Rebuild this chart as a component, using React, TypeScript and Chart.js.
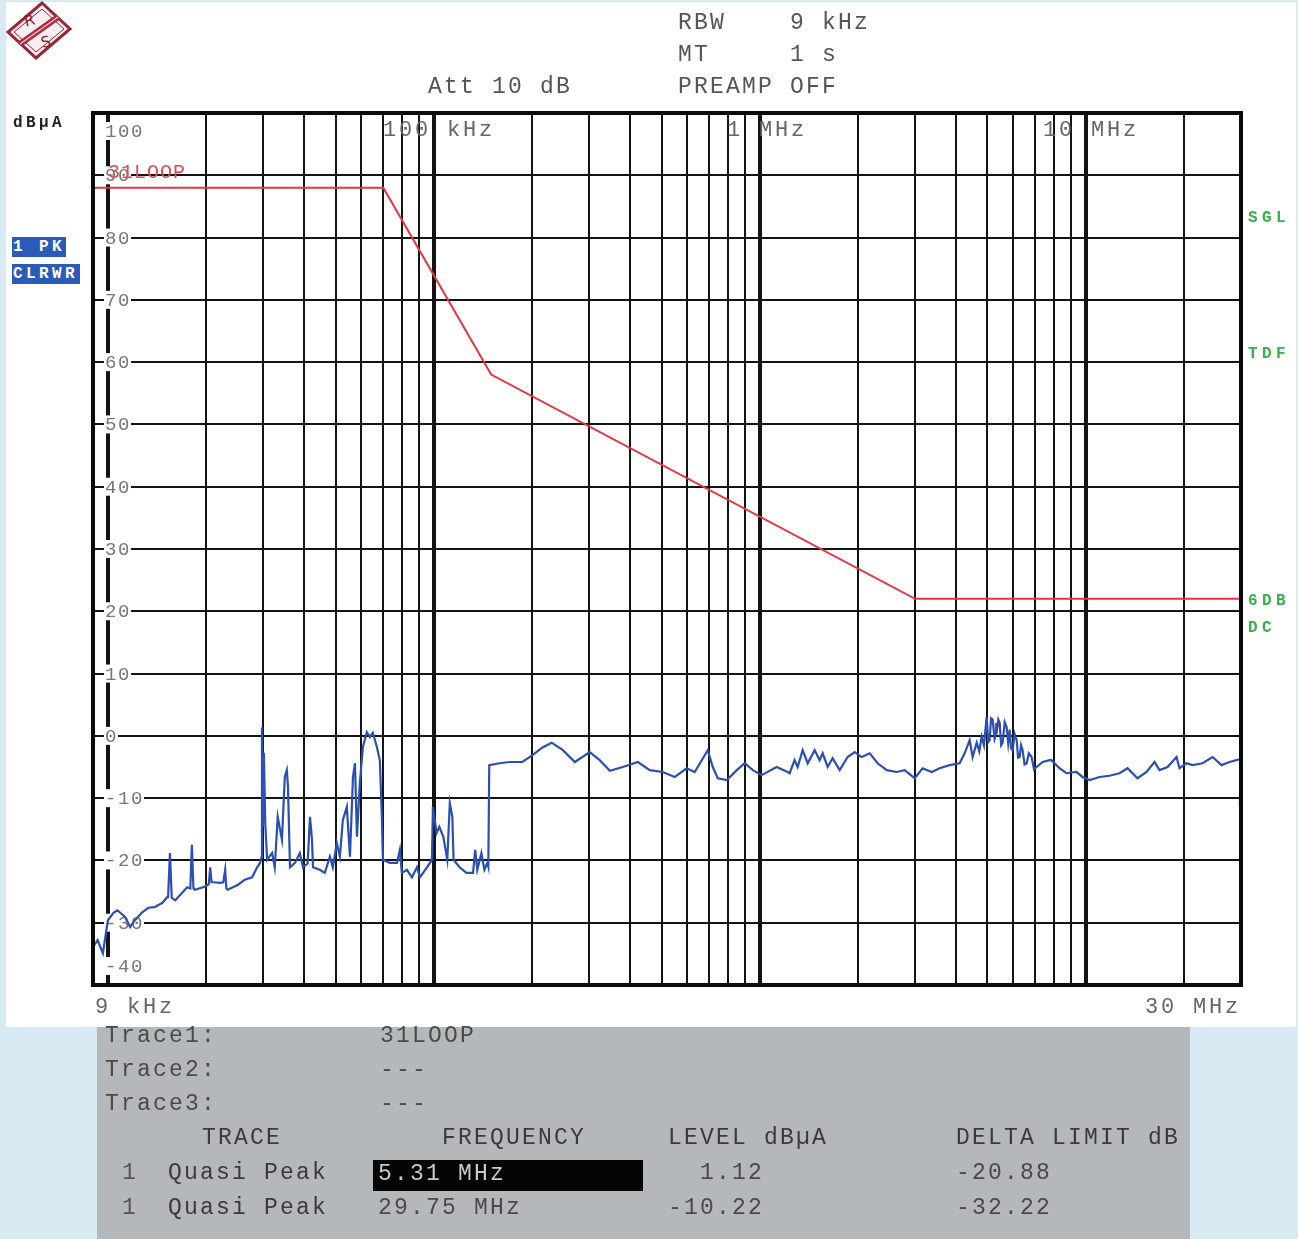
import React, { useEffect, useRef } from "react";
import { Chart, registerables } from "chart.js";

Chart.register(...registerables);

// ---------- data ----------
const traceFreqKHz = [
  9.0, 9.3, 9.65, 10.0, 10.4, 10.7, 11.3, 11.7, 12.1, 12.7, 13.3, 13.9, 14.7, 15.2, 15.3, 15.5, 15.7,
  16.1, 16.9, 17.5, 17.9, 18.1, 18.3, 18.5, 19.9, 20.4, 20.6, 20.8, 21.0, 22.1, 22.6, 22.9, 23.1, 23.3,
  25.1, 26.3, 27.7, 28.7, 29.3, 29.6, 29.7, 29.9, 30.1, 30.4, 30.8, 31.9, 32.5, 33.2, 34.2, 34.9, 35.4,
  35.7, 36.2, 37.5, 38.8, 39.7, 41.0, 41.7, 42.3, 42.6, 44.7, 46.3, 48.0, 49.0, 50.4, 51.5, 52.6, 54.1,
  55.3, 56.5, 57.3, 58.1, 59.3, 60.6, 62.3, 63.7, 65.0, 66.9, 68.3, 69.3, 69.8, 73.3, 77.1, 78.7, 79.8,
  82.7, 85.7, 88.8, 90.7, 95.3, 98.7, 99.4, 102, 104, 107, 110, 112, 114, 115, 120, 126, 132, 134, 136,
  140, 143, 146, 147, 148, 159, 171, 184, 187, 201, 215, 230, 249, 271, 301, 323, 347, 380, 423, 460,
  504, 549, 597, 632, 693, 718, 744, 793, 851, 900, 953, 1014, 1128, 1219, 1236, 1280, 1308, 1355, 1404,
  1475, 1528, 1561, 1617, 1675, 1760, 1862, 1957, 2056, 2176, 2302, 2454, 2633, 2786, 2990, 3163, 3372,
  3567, 3828, 4109, 4256, 4410, 4504, 4634, 4720, 4800, 4880, 4972, 5030, 5079, 5130, 5188, 5260, 5337,
  5400, 5451, 5510, 5568, 5650, 5727, 5790, 5850, 5910, 5974, 6060, 6148, 6210, 6280, 6340, 6412, 6500,
  6597, 6700, 6833, 6950, 7078, 7386, 7760, 7860, 8320, 8740, 9380, 9790, 10290, 11040, 11850,
  12710, 13460, 14440, 15390, 16280, 16870, 17850, 19020, 19430, 20410, 21300, 22860, 24540, 26150,
  27660, 30000,
];
const traceLevel = [
  -33.9, -32.8, -34.9, -29.6, -28.4, -28.0, -29.1, -30.7, -29.6, -28.4, -27.6, -27.5, -26.8, -25.9, -25.9, -18.8, -26.0,
  -26.4, -25.2, -24.3, -24.5, -17.5, -24.5, -24.7, -24.2, -23.8, -21.1, -23.5, -23.5, -23.6, -23.5, -21.5, -24.5, -24.7,
  -23.9, -23.1, -22.7, -21.1, -20.4, -19.5, 1.4, -14.6, -2.7, -14.0, -19.9, -18.8, -21.1, -13.0, -16.7, -6.6, -5.5,
  -8.2, -21.1, -20.4, -18.8, -21.1, -20.5, -13.0, -16.7, -21.1, -21.5, -22.0, -19.4, -21.1, -17.2, -19.4, -13.5, -11.4,
  -19.4, -6.6, -4.4, -16.2, -7.6, -1.8, 0.6, -0.2, 0.5, -1.8, -3.9, -13.0, -19.9, -20.4, -20.4, -18.3, -22.0,
  -21.5, -22.7, -21.1, -22.7, -21.1, -19.9, -11.4, -15.6, -14.6, -16.2, -19.9, -10.8, -13.0, -19.9, -21.1, -22.0, -22.0, -18.3, -21.5,
  -18.8, -21.5, -20.4, -21.0, -4.7, -4.4, -4.2, -4.2, -4.2, -3.1, -1.9, -1.1, -2.3, -4.2, -2.6, -3.9, -5.6, -5.0, -4.2, -5.5,
  -5.8, -6.6, -5.2, -5.8, -2.3, -5.0, -6.8, -7.1, -5.5, -4.4, -5.5, -6.3, -5.0, -5.8, -6.0, -3.9, -5.0, -2.3, -4.4,
  -2.3, -3.9, -2.8, -5.0, -3.6, -5.5, -3.4, -2.6, -3.4, -2.8, -4.4, -5.5, -5.8, -5.5, -6.8, -5.2, -5.8,
  -5.2, -4.7, -4.4, -2.8, -0.7, -3.4, -1.1, -2.5, -0.1, -1.5, 3.0, -1.0, -0.7, 2.8, 2.6, -0.5, 0.5,
  2.6, 2.1, -1.5, -1.1, 2.2, 1.4, -1.2, 1.0, -2.0, -2.3, 0.3, -0.7, -3.5, -3.4, -1.5, -2.3, -4.6,
  -4.4, -2.8, -3.4, -5.4, -5.0, -4.2, -3.9, -3.9, -5.2, -6.0, -5.8, -6.6, -7.1, -6.6, -6.4,
  -6.0, -5.2, -6.8, -5.8, -4.2, -5.5, -5.0, -3.4, -5.2, -4.4, -4.7, -4.4, -3.4, -4.7,
  -4.2, -3.7,
];

const limitFreqKHz = [9, 70, 150, 3000, 30000];
const limitLevel = [88, 88, 58, 22, 22];

const markerFreqKHz = [5310, 29750];
const markerLevel = [1.12, -10.22];

const xGridKHz = [
  10, 20, 30, 40, 50, 60, 70, 80, 90,
  100, 200, 300, 400, 500, 600, 700, 800, 900,
  1000, 2000, 3000, 4000, 5000, 6000, 7000, 8000, 9000,
  10000, 20000,
];
const xMajorKHz = [10, 100, 1000, 10000];
const yGridDb = [-30, -20, -10, 0, 10, 20, 30, 40, 50, 60, 70, 80, 90];
const yLabelValues = [100, 90, 80, 70, 60, 50, 40, 30, 20, 10, 0, -10, -20, -30, -40];
const yLabelTexts = ["100", "90", "80", "70", "60", "50", "40", "30", "20", "10", "0", "-10", "-20", "-30", "-40"];

const MONO = '"Liberation Mono", "DejaVu Sans Mono", monospace';

const emiPlugin = {
  id: "emiGrid",
  beforeDatasetsDraw(chart: any) {
    const { ctx, chartArea: a, scales } = chart;
    const x = scales.x;
    const y = scales.y;
    ctx.save();
    ctx.fillStyle = "#ffffff";
    ctx.fillRect(a.left, a.top, a.right - a.left, a.bottom - a.top);
    ctx.strokeStyle = "#141414";
    ctx.lineWidth = 2;
    yGridDb.forEach((v) => {
      const py = Math.round(y.getPixelForValue(v));
      ctx.beginPath();
      ctx.moveTo(a.left, py);
      ctx.lineTo(a.right, py);
      ctx.stroke();
    });
    xGridKHz.forEach((f) => {
      const px = Math.round(x.getPixelForValue(f));
      ctx.lineWidth = xMajorKHz.includes(f) ? 4 : 2;
      ctx.beginPath();
      ctx.moveTo(px, a.top);
      ctx.lineTo(px, a.bottom);
      ctx.stroke();
    });
    // y labels inside the plot with white backdrop
    ctx.font = "19px " + MONO;
    (ctx as any).letterSpacing = "1.6px";
    ctx.textBaseline = "middle";
    yLabelValues.forEach((v, i) => {
      let py = y.getPixelForValue(v);
      if (i === 0) py += 18;
      if (i === yLabelValues.length - 1) py -= 19;
      const t = yLabelTexts[i];
      const w = ctx.measureText(t).width;
      ctx.fillStyle = "#ffffff";
      ctx.fillRect(a.left + 11, py - 9, w + 1, 18);
      ctx.fillStyle = "#777777";
      ctx.fillText(t, a.left + 12, py + 1);
    });
    ctx.restore();
  },
  afterDatasetsDraw(chart: any) {
    const { ctx, chartArea: a } = chart;
    ctx.save();
    ctx.strokeStyle = "#0a0a0a";
    ctx.lineWidth = 4;
    ctx.strokeRect(a.left, a.top, a.right - a.left, a.bottom - a.top);
    ctx.restore();
  },
};

type TProps = { x: number; y: number; text: string; size?: number; sp?: number; color?: string; bold?: boolean };
const T = ({ x, y, text, size = 23, sp = 2.2, color = "#555", bold = false }: TProps) => (
  <div
    style={{
      position: "absolute",
      left: x,
      top: y - size / 2,
      fontFamily: MONO,
      fontSize: size,
      lineHeight: 1,
      letterSpacing: sp,
      color,
      fontWeight: bold ? "bold" : "normal",
      whiteSpace: "pre",
    }}
  >
    {text}
  </div>
);

function Logo() {
  return (
    <svg width={80} height={66} style={{ position: "absolute", left: 0, top: 0 }}>
      <polygon points="42,3 70,29 36,58 8,32" fill="#f7eef0" stroke="#9b2436" strokeWidth={3} />
      <polygon points="42,9 64,29 36,52 14,32" fill="none" stroke="#9b2436" strokeWidth={1} />
      <line x1="20" y1="44" x2="58" y2="17" stroke="#b0283c" strokeWidth={6} />
      <line x1="20" y1="44" x2="58" y2="17" stroke="#f0c8cf" strokeWidth={1.5} />
      <text x="24" y="26" fontSize="15" fontFamily="DejaVu Sans" fill="#8a1f30" transform="rotate(-15 28 20)">R</text>
      <text x="41" y="47" fontSize="15" fontFamily="DejaVu Sans" fill="#8a1f30" transform="rotate(-15 46 42)">S</text>
    </svg>
  );
}

export default function App() {
  const canvasRef = useRef<HTMLCanvasElement | null>(null);

  useEffect(() => {
    if (!canvasRef.current) return;
    const chart = new Chart(canvasRef.current, {
      type: "line",
      data: {
        datasets: [
          {
            label: "Trace 1",
            data: traceFreqKHz.map((f, i) => ({ x: f, y: traceLevel[i] })),
            borderColor: "#2b4fb3",
            borderWidth: 2.2,
            pointRadius: 0,
            tension: 0,
          },
          {
            label: "31LOOP",
            data: limitFreqKHz.map((f, i) => ({ x: f, y: limitLevel[i] })),
            borderColor: "#e8343f",
            borderWidth: 2,
            pointRadius: 0,
            tension: 0,
          },
          {
            label: "Markers",
            data: markerFreqKHz.map((f, i) => ({ x: f, y: markerLevel[i] })),
            showLine: false,
            pointStyle: "line",
            rotation: 90,
            pointRadius: 6,
            borderColor: "#e02030",
            borderWidth: 2,
          },
        ],
      } as any,
      options: {
        responsive: false,
        animation: false,
        events: [],
        layout: { padding: { left: 93, top: 113, right: 57, bottom: 45 } },
        plugins: { legend: { display: false }, tooltip: { enabled: false } },
        scales: {
          x: { type: "logarithmic", min: 9, max: 30000, display: false },
          y: { type: "linear", min: -40, max: 100, display: false },
        },
      } as any,
      plugins: [emiPlugin],
    });
    return () => chart.destroy();
  }, []);

  return (
    <div style={{ position: "absolute", left: 0, top: 0, width: 1298, height: 1239, background: "#d8ebf4", overflow: "hidden" }}>
      <div style={{ position: "absolute", left: 6, top: 2, width: 1290, height: 1025, background: "#ffffff" }} />
      <Logo />
      <canvas ref={canvasRef} width={1298} height={1030} style={{ position: "absolute", left: 0, top: 0, width: 1298, height: 1030 }} />

      <T x={678} y={23} text="RBW    9 kHz" />
      <T x={678} y={55} text="MT     1 s" />
      <T x={678} y={87} text="PREAMP OFF" />
      <T x={428} y={87} text="Att 10 dB" />

      <T x={13} y={123} text="dBµA" size={16} sp={3.4} color="#222" bold />
      <div style={{ position: "absolute", left: 12, top: 237, width: 54, height: 20, background: "#2a5bb8" }} />
      <T x={13} y={247} text="1 PK" size={16} sp={3.4} color="#ffffff" bold />
      <div style={{ position: "absolute", left: 12, top: 264, width: 68, height: 20, background: "#2a5bb8" }} />
      <T x={13} y={274} text="CLRWR" size={16} sp={3.4} color="#ffffff" bold />

      <T x={108} y={173} text="31LOOP" size={20} sp={1} color="#e04a50" />

      <T x={1248} y={218} text="SGL" size={16} sp={4.4} color="#35b04a" bold />
      <T x={1248} y={354} text="TDF" size={16} sp={4.4} color="#35b04a" bold />
      <T x={1248} y={601} text="6DB" size={16} sp={4.4} color="#35b04a" bold />
      <T x={1248} y={628} text="DC" size={16} sp={4.4} color="#35b04a" bold />

      <T x={383} y={131} text="100 kHz" size={22} sp={2.8} color="#666" />
      <T x={727} y={131} text="1 MHz" size={22} sp={2.8} color="#666" />
      <T x={1043} y={131} text="10 MHz" size={22} sp={2.8} color="#666" />
      <T x={95} y={1008} text="9 kHz" size={22} sp={2.8} color="#666" />
      <T x={1145} y={1008} text="30 MHz" size={22} sp={2.8} color="#666" />

      <div style={{ position: "absolute", left: 97, top: 1027, width: 1093, height: 212, background: "#b4b8ba" }} />
      <T x={105} y={1036} text="Trace1:" color="#4a4a4a" />
      <T x={380} y={1036} text="31LOOP" color="#4a4a4a" />
      <T x={105} y={1070} text="Trace2:" color="#4a4a4a" />
      <T x={380} y={1070} text="---" color="#4a4a4a" />
      <T x={105} y={1104} text="Trace3:" color="#4a4a4a" />
      <T x={380} y={1104} text="---" color="#4a4a4a" />
      <T x={202} y={1138} text="TRACE" color="#3a3a3a" />
      <T x={442} y={1138} text="FREQUENCY" color="#3a3a3a" />
      <T x={668} y={1138} text="LEVEL dBµA" color="#3a3a3a" />
      <T x={956} y={1138} text="DELTA LIMIT dB" color="#3a3a3a" />
      <T x={122} y={1173} text="1" color="#555" />
      <T x={168} y={1173} text="Quasi Peak" color="#3a3a3a" />
      <div style={{ position: "absolute", left: 373, top: 1160, width: 270, height: 31, background: "#050505" }} />
      <T x={378} y={1174} text="5.31 MHz" color="#c8c8c8" />
      <T x={700} y={1173} text="1.12" color="#4a4a4a" />
      <T x={956} y={1173} text="-20.88" color="#4a4a4a" />
      <T x={122} y={1208} text="1" color="#555" />
      <T x={168} y={1208} text="Quasi Peak" color="#3a3a3a" />
      <T x={378} y={1208} text="29.75 MHz" color="#4a4a4a" />
      <T x={668} y={1208} text="-10.22" color="#4a4a4a" />
      <T x={956} y={1208} text="-32.22" color="#4a4a4a" />
    </div>
  );
}
